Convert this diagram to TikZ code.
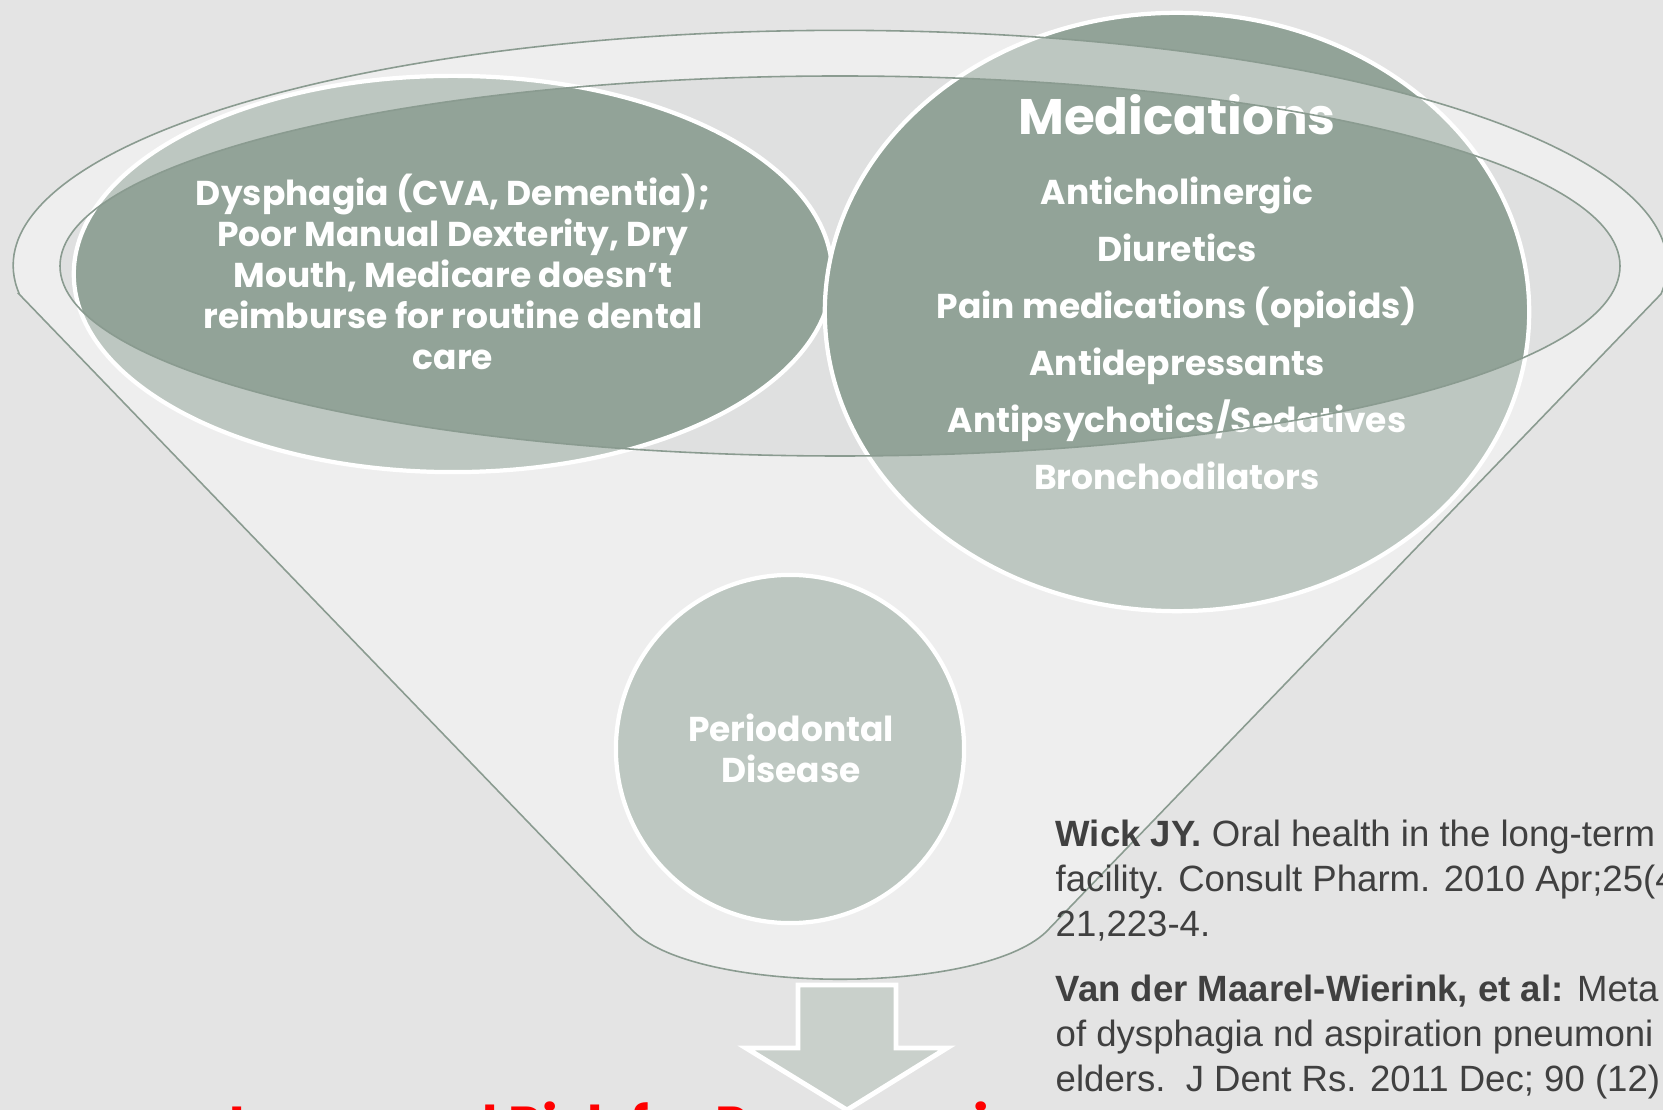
\documentclass[tikz,border=0pt]{standalone}
\usepackage{fontspec}
\setmainfont{Poppins}
\newfontfamily\reffont{Liberation Sans}
\usetikzlibrary{shapes.geometric}
\definecolor{sage}{HTML}{92A398}
\definecolor{rimline}{HTML}{8A9B90}
\definecolor{bg}{HTML}{E4E4E4}
\definecolor{arrowfill}{HTML}{C9D0CB}
\definecolor{reftext}{HTML}{404040}
\begin{document}
\begin{tikzpicture}[x=0.01cm, y=-0.01cm,
    bl/.style={ellipse, draw=white, line width=1.2pt, fill=sage, inner sep=0pt},
    wt/.style={text=white, font=\bfseries\fontsize{9.8}{11.6}\selectfont, align=center, inner sep=0pt},
    med/.style={wt, anchor=base},
    rim/.style={draw=rimline, line width=0.45pt}
  ]
  \useasboundingbox (0,0) rectangle (1663,1110);
  \fill[bg] (0,0) rectangle (1663,1110);
  \fill[sage, opacity=0.05] (840,266) ellipse [x radius=780, y radius=190];
  \node[bl, minimum width=7.58cm, minimum height=3.96cm] (dys) at (453,274) {};
  \node[bl, minimum width=7.04cm, minimum height=5.98cm] (meds) at (1177,312) {};
  \node[bl, circle, minimum size=3.48cm] (perio) at (790,749) {};
  \node[wt] (dystx) at (453,272) {Dysphagia (CVA, Dementia);\\Poor Manual Dexterity, Dry\\Mouth, Medicare doesn’t\\reimburse for routine dental\\care};
  \node[med, font=\bfseries\fontsize{14.2}{17}\selectfont] (medhd) at (1177,135) {Medications};
  \foreach \m [count=\i] in {Anticholinergic, Diuretics, Pain medications (opioids), Antidepressants, Antipsychotics/Sedatives, Bronchodilators} {
    \node[med] (m\i) at (1177,{205+57*(\i-1)}) {\m};
  }
  \node[wt] (periotx) at (791,748) {Periodontal\\Disease};
  \draw[rim, fill=white, fill opacity=0.4, even odd rule]
    (19,294) -- (634,932) .. controls (700,995) and (980,995) .. (1046,932) -- (1661,294)
    arc[start angle=7, end angle=-187, x radius=827, y radius=235] -- cycle
    (840,266) ellipse [x radius=780, y radius=190];
  \node[anchor=base west, text=red, font=\bfseries\fontsize{14.8}{18}\selectfont, inner sep=0pt] (risk) at (229,1143) {Increased Risk for Pneumonia};
  \draw[white, line width=1.4pt, fill=arrowfill]
    (798,985) -- (896,985) -- (896,1048) -- (947,1048) -- (847,1110) -- (746,1048) -- (798,1048) -- cycle;
  \node[anchor=north west, inner sep=0pt, align=left, text=reftext, font=\reffont\fontsize{10.4}{12.8}\selectfont] (refs) at (1055,819)
    {\textbf{Wick JY.} Oral health in the long-term\\facility. Consult Pharm. 2010 Apr;25(4\\21,223-4.\\[5.7pt]\textbf{Van der Maarel-Wierink, et al:} Meta\\of dysphagia nd aspiration pneumoni\\elders.\ \ J Dent Rs. 2011 Dec; 90 (12)};
\end{tikzpicture}
\end{document}
